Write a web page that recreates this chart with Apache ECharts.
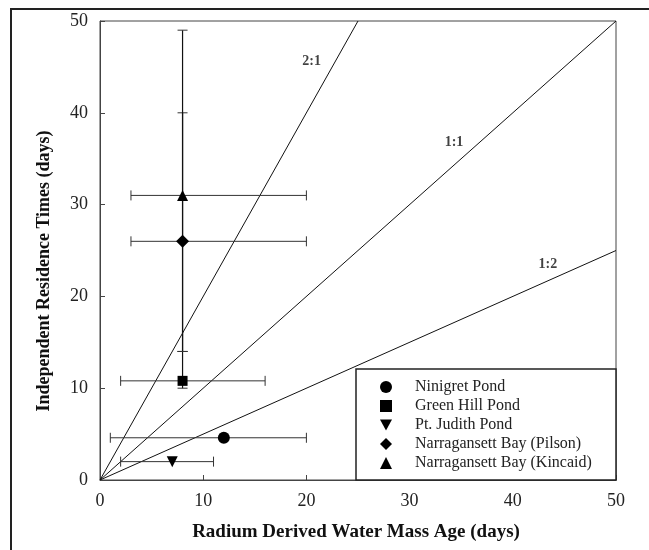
<!DOCTYPE html>
<html>
<head>
<meta charset="utf-8">
<script src="https://cdn.jsdelivr.net/npm/echarts@6/dist/echarts.min.js"></script>
<style>
  html, body { margin: 0; padding: 0; background: #fff; }
  #main { width: 649px; height: 550px; }
</style>
</head>
<body>
<div id="main"></div>
<script>
var siteNames = ['Ninigret Pond', 'Green Hill Pond', 'Pt. Judith Pond', 'Narragansett Bay (Pilson)', 'Narragansett Bay (Kincaid)'];
var radiumAge = [12, 8, 7, 8, 8];
var residenceTime = [4.6, 10.8, 2, 26, 31];
var ageLow = [1, 2, 2, 3, 3];
var ageHigh = [20, 16, 11, 20, 20];
var timeLow = [null, 10, null, 14, 14];
var timeHigh = [null, 14, null, 40, 49];

var ratioNames = ['2:1', '1:1', '1:2'];
var ratioLines = [[[0, 0], [25, 50]], [[0, 0], [50, 50]], [[0, 0], [50, 25]]];
var ratioLabelAt = [[20.5, 45.6], [34.3, 36.8], [43.4, 23.5]];

var axisTicks = [0, 10, 20, 30, 40, 50];

var symbols = ['circle', 'rect', 'path://M0,0 L10,0 L5,9 Z', 'diamond', 'triangle'];
var symbolSizes = [12, 10, 11, 13, 11];

var serif = '"Liberation Serif", "DejaVu Serif", serif';

var chartDom = document.getElementById('main');
var myChart = echarts.init(chartDom, null, { renderer: 'canvas' });

var series = [];

// reference lines 2:1, 1:1, 1:2
ratioLines.forEach(function (pts, i) {
    series.push({
        name: ratioNames[i],
        type: 'line',
        data: pts,
        symbol: 'none',
        silent: true,
        lineStyle: { color: '#111', width: 1 },
        z: 1
    });
});

// labels for the ratio lines
series.push({
    type: 'scatter',
    symbol: 'circle',
    symbolSize: 1,
    silent: true,
    itemStyle: { color: 'rgba(0,0,0,0)' },
    data: ratioLabelAt.map(function (p, i) { return { value: p, name: ratioNames[i] }; }),
    label: {
        show: true,
        position: 'inside',
        formatter: function (p) { return p.name; },
        fontFamily: serif,
        fontWeight: 'bold',
        fontSize: 14,
        color: '#111'
    },
    z: 2
});

// error bars
var errData = siteNames.map(function (n, i) {
    return [radiumAge[i], residenceTime[i], ageLow[i], ageHigh[i],
        timeLow[i] == null ? NaN : timeLow[i], timeHigh[i] == null ? NaN : timeHigh[i]];
});
series.push({
    type: 'custom',
    silent: true,
    data: errData,
    encode: { x: 0, y: 1 },
    renderItem: function (params, api) {
        var x = api.value(0), y = api.value(1);
        var cap = 5;
        var st = { stroke: '#333', lineWidth: 1 };
        var kids = [];
        var a = api.coord([api.value(2), y]);
        var b = api.coord([api.value(3), y]);
        kids.push({ type: 'line', shape: { x1: a[0], y1: a[1], x2: b[0], y2: b[1] }, style: st });
        kids.push({ type: 'line', shape: { x1: a[0], y1: a[1] - cap, x2: a[0], y2: a[1] + cap }, style: st });
        kids.push({ type: 'line', shape: { x1: b[0], y1: b[1] - cap, x2: b[0], y2: b[1] + cap }, style: st });
        var lo = api.value(4), hi = api.value(5);
        if (!isNaN(lo) && !isNaN(hi)) {
            var c = api.coord([x, lo]);
            var d = api.coord([x, hi]);
            var vs = { stroke: '#111', lineWidth: 1.2 };
            kids.push({ type: 'line', shape: { x1: c[0], y1: c[1], x2: d[0], y2: d[1] }, style: vs });
            kids.push({ type: 'line', shape: { x1: c[0] - cap, y1: c[1], x2: c[0] + cap, y2: c[1] }, style: st });
            kids.push({ type: 'line', shape: { x1: d[0] - cap, y1: d[1], x2: d[0] + cap, y2: d[1] }, style: st });
        }
        return { type: 'group', children: kids };
    },
    z: 3
});

// the sites
siteNames.forEach(function (n, i) {
    series.push({
        name: n,
        type: 'scatter',
        data: [[radiumAge[i], residenceTime[i]]],
        symbol: symbols[i],
        symbolSize: symbolSizes[i],
        itemStyle: { color: '#000', opacity: 1 },
        z: 4
    });
});

var option = {
    animation: false,
    backgroundColor: '#fff',
    grid: {
        left: 100, right: 33, top: 21, bottom: 70,
        show: true, borderColor: '#444', borderWidth: 1
    },
    xAxis: {
        type: 'value',
        min: axisTicks[0], max: axisTicks[axisTicks.length - 1], interval: 10,
        axisLine: { lineStyle: { color: '#444' } },
        axisTick: { inside: true, length: 5, lineStyle: { color: '#444' } },
        axisLabel: { fontFamily: serif, fontSize: 18, color: '#222', margin: 12 },
        splitLine: { show: false }
    },
    yAxis: {
        type: 'value',
        min: axisTicks[0], max: axisTicks[axisTicks.length - 1], interval: 10,
        axisLine: { lineStyle: { color: '#444' } },
        axisTick: { inside: true, length: 5, lineStyle: { color: '#444' } },
        axisLabel: { fontFamily: serif, fontSize: 18, color: '#222', margin: 12 },
        splitLine: { show: false }
    },
    legend: {
        data: siteNames,
        orient: 'vertical',
        left: 380,
        top: 379,
        padding: 0,
        itemWidth: 12,
        itemHeight: 12,
        itemGap: 3,
        textStyle: { fontFamily: serif, fontSize: 16, lineHeight: 16, color: '#222', padding: [0, 0, 0, 18] },
        selectedMode: false,
        z: 10
    },
    graphic: [
        {
            type: 'rect',
            shape: { x: 356, y: 369, width: 260, height: 111 },
            style: { fill: '#fff', stroke: '#222', lineWidth: 1.5 },
            z: 3
        },
        {
            type: 'rect',
            shape: { x: 11, y: 9, width: 700, height: 600 },
            style: { fill: 'none', stroke: '#222', lineWidth: 2 },
            silent: true
        },
        {
            type: 'text',
            x: 44,
            y: 271,
            rotation: Math.PI / 2,
            style: {
                text: 'Independent Residence Times (days)',
                align: 'center',
                verticalAlign: 'middle',
                font: 'bold 18px ' + serif,
                fill: '#111'
            }
        },
        {
            type: 'text',
            x: 356,
            y: 532,
            style: {
                text: 'Radium Derived Water Mass Age (days)',
                align: 'center',
                verticalAlign: 'middle',
                font: 'bold 19px ' + serif,
                fill: '#111'
            }
        }
    ],
    series: series
};

option && myChart && myChart.setOption(option);
</script>
</body>
</html>
